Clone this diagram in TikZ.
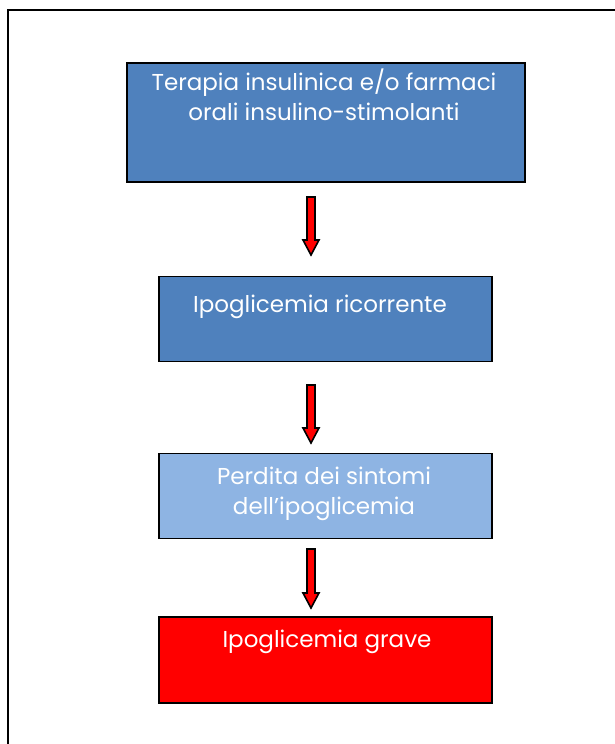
\documentclass[tikz,border=0pt]{standalone}
\usepackage{fontspec}
\setmainfont{Poppins}
\definecolor{boxblue}{HTML}{4F81BD}
\definecolor{boxlight}{HTML}{8EB4E3}
\definecolor{boxred}{HTML}{FF0000}
\tikzset{
  x=1pt, y=1pt,
  flowbox/.style={draw=black, line width=1.5pt, rectangle, anchor=north west, inner sep=0pt},
  flowtext/.style={text=white, font=\fontsize{23}{30}\selectfont, align=center, anchor=base, inner sep=0pt},
  blockarr/.style={draw=black, line width=1.6pt, fill=boxred, line join=miter}
}
\newcommand\downblock[2]{%
  \draw[blockarr] ([xshift=-4pt]#1) -- ([xshift=4pt]#1) -- ([shift={(4pt,15pt)}]#2) -- ([shift={(8pt,15pt)}]#2) -- (#2) -- ([shift={(-8pt,15pt)}]#2) -- ([shift={(-4pt,15pt)}]#2) -- cycle;}
\begin{document}
\begin{tikzpicture}
\useasboundingbox (0,0) rectangle (614,-744);
\fill[white] (0,0) rectangle (614,-744);
\draw[line width=2pt] (8,-10) rectangle (630,-760);
% boxes
\node[flowbox, fill=boxblue, minimum width=398pt, minimum height=119pt] (b1) at (126,-62) {};
\node[flowbox, fill=boxblue, minimum width=333pt, minimum height=85pt] (b2) at (158,-275.5) {};
\node[flowbox, fill=boxlight, minimum width=333pt, minimum height=85pt] (b3) at (158,-452.5) {};
\node[flowbox, fill=boxred, minimum width=333pt, minimum height=86pt] (b4) at (158,-616) {};
% texts (base anchor = baseline of last line)
\node[flowtext] (t1) at (324,-120) {Terapia insulinica e/o farmaci\\orali insulino-stimolanti};
\node[flowtext] (t2) at (320,-312.5) {Ipoglicemia ricorrente};
\node[flowtext] (t3) at (324,-514) {Perdita dei sintomi\\dell’ipoglicemia};
\node[flowtext] (t4) at (327,-647) {Ipoglicemia grave};
% arrows
\coordinate (a1t) at (311,-197);
\coordinate (a1b) at (311,-255);
\coordinate (a2t) at (311,-385);
\coordinate (a2b) at (311,-443);
\coordinate (a3t) at (311,-549);
\coordinate (a3b) at (311,-608);
\downblock{a1t}{a1b}
\downblock{a2t}{a2b}
\downblock{a3t}{a3b}
\end{tikzpicture}
\end{document}
